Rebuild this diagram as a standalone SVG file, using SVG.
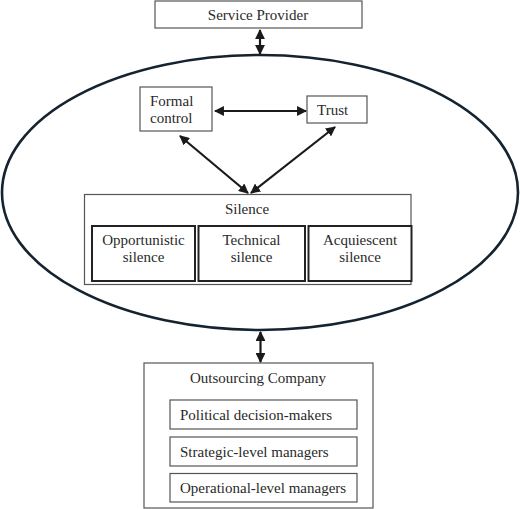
<svg xmlns="http://www.w3.org/2000/svg" width="520" height="509" viewBox="0 0 520 509">
<defs>
<marker id="ah" viewBox="0 0 10 10" refX="9" refY="5" markerWidth="4.5" markerHeight="4.5" orient="auto-start-reverse" markerUnits="strokeWidth">
<path d="M0,0 L10,5 L0,10 z" fill="#1a1a1a"/>
</marker>
</defs>
<style>
.box{fill:#fff;stroke:#555;stroke-width:1.2}
.thick{fill:#fff;stroke:#222;stroke-width:2}
.arr{stroke:#1a1a1a;stroke-width:2.2;fill:none;marker-start:url(#ah);marker-end:url(#ah)}
</style>
<rect width="520" height="509" fill="#fff"/>
<g id="context">
<ellipse cx="260" cy="192.5" rx="258" ry="137.5" fill="#fff" stroke="#14232f" stroke-width="2.6"/>
</g>
<g font-family="Liberation Serif, Times New Roman, serif" font-size="15" fill="#2a2a2a">
<g id="service-provider">
<rect class="box" x="155" y="1" width="207" height="27"/>
<text text-anchor="middle" x="258" y="20">Service Provider</text>
</g>
<g id="formal-control">
<rect class="box" x="140" y="87" width="72" height="44"/>
<text x="150" y="106">Formal</text>
<text x="150" y="123">control</text>
</g>
<g id="trust">
<rect class="box" x="307" y="96" width="60" height="27"/>
<text x="317" y="115">Trust</text>
</g>
<g id="silence">
<rect class="box" x="84.5" y="194.5" width="326.5" height="90"/>
<text text-anchor="middle" x="247" y="214">Silence</text>
</g>
<g id="opportunistic-silence">
<rect class="thick" x="92" y="226" width="103" height="55"/>
<text text-anchor="middle" x="143.5" y="245">Opportunistic</text>
<text text-anchor="middle" x="143.5" y="262">silence</text>
</g>
<g id="technical-silence">
<rect class="thick" x="198.5" y="226" width="106.5" height="55"/>
<text text-anchor="middle" x="251.5" y="245">Technical</text>
<text text-anchor="middle" x="251.5" y="262">silence</text>
</g>
<g id="acquiescent-silence">
<rect class="thick" x="308.5" y="226" width="103" height="55"/>
<text text-anchor="middle" x="360" y="245">Acquiescent</text>
<text text-anchor="middle" x="360" y="262">silence</text>
</g>
<g id="outsourcing-company">
<rect class="box" x="144" y="363" width="229" height="145"/>
<text text-anchor="middle" x="258" y="383">Outsourcing Company</text>
</g>
<g id="political-decision-makers">
<rect class="box" x="170" y="400" width="187" height="29"/>
<text x="180" y="420">Political decision-makers</text>
</g>
<g id="strategic-level-managers">
<rect class="box" x="170" y="437" width="187" height="29"/>
<text x="180" y="457">Strategic-level managers</text>
</g>
<g id="operational-level-managers">
<rect class="box" x="170" y="473.5" width="187" height="28.5"/>
<text x="180" y="493">Operational-level managers</text>
</g>
</g>
<g id="connectors">
<line class="arr" x1="260" y1="30" x2="260" y2="54"/>
<line class="arr" x1="215" y1="111" x2="306" y2="111"/>
<line class="arr" x1="180" y1="136" x2="248" y2="193"/>
<line class="arr" x1="335" y1="127" x2="251" y2="193"/>
<line class="arr" x1="260.5" y1="332" x2="260.5" y2="362"/>
</g>
</svg>
